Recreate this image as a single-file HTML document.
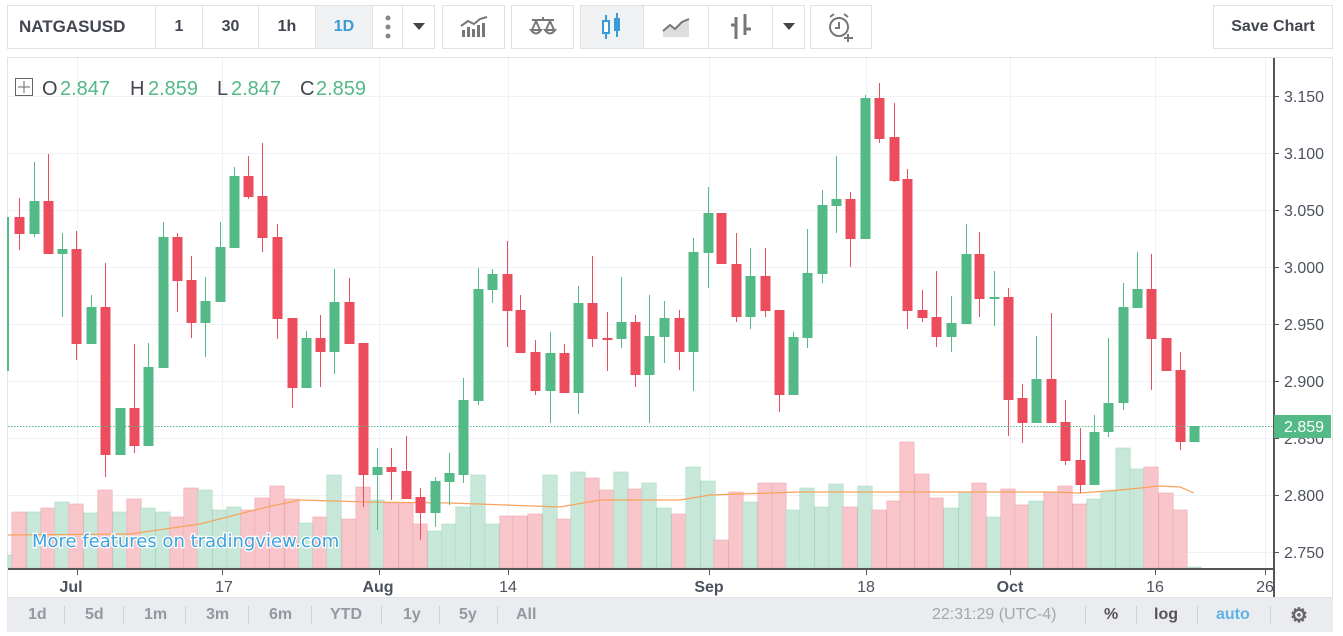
<!DOCTYPE html>
<html><head><meta charset="utf-8"><style>
body{margin:0;width:1343px;height:636px;background:#fff;font-family:"Liberation Sans",sans-serif;overflow:hidden;position:relative}
.b{position:absolute;border:1px solid #dfe1e5;box-sizing:border-box;background:#fff;display:flex;align-items:center;justify-content:center;color:#434651;font-weight:bold;font-size:16px}
.bb{position:absolute;top:598px;height:34px;display:flex;align-items:center;font-size:16px;color:#9598a1;font-weight:bold}
.sep{position:absolute;top:606px;width:1px;height:18px;background:#cfd2d6}
</style></head><body>
<div class="b" style="left:7px;top:5px;width:149px;height:44px;justify-content:flex-start;padding-left:11px;font-size:17px">NATGASUSD</div>
<div class="b" style="left:155px;top:5px;width:48px;height:44px">1</div>
<div class="b" style="left:202px;top:5px;width:57px;height:44px">30</div>
<div class="b" style="left:258px;top:5px;width:58px;height:44px">1h</div>
<div class="b" style="left:315px;top:5px;width:58px;height:44px;background:#f0f1f3;color:#3a9bd8">1D</div>
<div class="b" style="left:372px;top:5px;width:31px;height:44px"><svg width="6" height="26"><circle cx="3" cy="4" r="2.5" fill="#888"/><circle cx="3" cy="13" r="2.5" fill="#888"/><circle cx="3" cy="22" r="2.5" fill="#888"/></svg></div>
<div class="b" style="left:402px;top:5px;width:33px;height:44px"><svg width="12" height="8"><path d="M0 0H12L6 7Z" fill="#444"/></svg></div>
<div class="b" style="left:442px;top:5px;width:63px;height:44px"><svg width="28" height="22"><g fill="#777"><rect x="2" y="14" width="3" height="7"/><rect x="7" y="11" width="3" height="10"/><rect x="12" y="13" width="3" height="8"/><rect x="17" y="9" width="3" height="12"/><rect x="22" y="7" width="3" height="14"/></g><path d="M1 10L8 5L14 8L20 3L27 1" stroke="#777" stroke-width="2" fill="none"/></svg></div>
<div class="b" style="left:511px;top:5px;width:63px;height:44px"><svg width="28" height="22"><g stroke="#777" stroke-width="2" fill="none"><path d="M3 4H25M14 1V5M7 5L3 14M7 5L11 14M21 5L17 14M21 5L25 14M2 14Q7 21 12 14ZM16 14Q21 21 26 14Z"/></g></svg></div>
<div class="b" style="left:580px;top:5px;width:64px;height:44px;background:#f0f1f3"><svg width="22" height="30"><g stroke="#3a9bd8" stroke-width="2"><path d="M5 3V27M16 1V25"/></g><rect x="2" y="9" width="6" height="12" fill="#fff" stroke="#3a9bd8" stroke-width="2"/><rect x="13" y="6" width="6" height="13" fill="#3a9bd8"/></svg></div>
<div class="b" style="left:643px;top:5px;width:66px;height:44px"><svg width="28" height="20"><path d="M1 14L8 8L13 12L20 5L27 2V20H1Z" fill="#ddd"/><path d="M1 14L8 8L13 12L20 5L27 2" stroke="#777" stroke-width="2" fill="none"/></svg></div>
<div class="b" style="left:708px;top:5px;width:65px;height:44px"><svg width="24" height="28"><g stroke="#777" stroke-width="3" fill="none"><path d="M7 4V26M2 12H7M16 1V22M16 16H22"/></g></svg></div>
<div class="b" style="left:772px;top:5px;width:33px;height:44px"><svg width="12" height="8"><path d="M0 0H12L6 7Z" fill="#444"/></svg></div>
<div class="b" style="left:810px;top:5px;width:62px;height:44px"><svg width="30" height="30"><g stroke="#777" stroke-width="2" fill="none"><circle cx="13" cy="15" r="9"/><path d="M13 10V16H9M4 5L8 2M22 5L18 2M22 22V30M18 26H27"/></g></svg></div>
<div class="b" style="left:1213px;top:5px;width:120px;height:44px;font-size:16px;color:#434651">Save Chart</div>

<svg style="position:absolute;left:0;top:0" width="1343" height="636">
<rect x="7.5" y="57.5" width="1325" height="540" fill="#fff" stroke="#e0e3e8"/>
<g id="grid" stroke="#eef1f5" stroke-width="1"></g>
<g id="vol"></g>
<polyline id="ma" fill="none" stroke="#f7a35c" stroke-width="1.2" points="8,535 130,534 200,524 267,507 300,500 367,502 450,503 560,507 600,500 680,500 710,495 800,492 1050,492 1080,493 1120,490 1160,486 1180,487 1194,493"/>
<text x="32" y="547" font-size="18" fill="#3fa2dc" stroke="#fff" stroke-width="2.5" paint-order="stroke" font-family="DejaVu Sans, sans-serif">More features on tradingview.com</text>
<g id="cand"></g>
<line x1="8" y1="426.5" x2="1274" y2="426.5" stroke="#53b987" stroke-dasharray="1.5,1.5"/>
<line x1="8" y1="569" x2="1274" y2="569" stroke="#555" stroke-width="2"/>
<line x1="1274" y1="58" x2="1274" y2="597" stroke="#555" stroke-width="2"/>
<g id="ticks" stroke="#555"></g>
<g font-size="16" fill="#4c525e" font-family="Liberation Sans, sans-serif">
<text x="1284" y="102">3.150</text><text x="1284" y="159">3.100</text><text x="1284" y="216">3.050</text><text x="1284" y="273">3.000</text><text x="1284" y="330">2.950</text><text x="1284" y="387">2.900</text><text x="1284" y="444">2.850</text><text x="1284" y="501">2.800</text><text x="1284" y="558">2.750</text>
</g>
<rect x="1274" y="415" width="57" height="23" fill="#53b987"/>
<text x="1284" y="432" font-size="16" fill="#fff" font-family="Liberation Sans, sans-serif">2.859</text>
<g font-size="16" fill="#4c525e" font-family="Liberation Sans, sans-serif" text-anchor="middle">
<text x="71" y="592" font-weight="bold">Jul</text><text x="224" y="592">17</text><text x="378" y="592" font-weight="bold">Aug</text><text x="508" y="592">14</text><text x="709" y="592" font-weight="bold">Sep</text><text x="866" y="592">18</text><text x="1010" y="592" font-weight="bold">Oct</text><text x="1155" y="592">16</text><text x="1265" y="592">26</text>
</g>
<rect x="15.5" y="78.5" width="17" height="17" fill="none" stroke="#666"/>
<path d="M24 81V93M18 87H30" stroke="#666"/>
<g font-size="20" font-family="Liberation Sans, sans-serif">
<text x="42" y="95" fill="#434651">O</text><text x="60" y="95" fill="#53b987">2.847</text>
<text x="130" y="95" fill="#434651">H</text><text x="148" y="95" fill="#53b987">2.859</text>
<text x="217" y="95" fill="#434651">L</text><text x="231" y="95" fill="#53b987">2.847</text>
<text x="300" y="95" fill="#434651">C</text><text x="316" y="95" fill="#53b987">2.859</text>
</g>
<rect x="7" y="598" width="1326" height="34" fill="#ebecef"/>
</svg>
<div class="bb" style="left:28px">1d</div><div class="bb" style="left:85px">5d</div><div class="bb" style="left:144px">1m</div><div class="bb" style="left:206px">3m</div><div class="bb" style="left:269px">6m</div><div class="bb" style="left:330px">YTD</div><div class="bb" style="left:403px">1y</div><div class="bb" style="left:459px">5y</div><div class="bb" style="left:516px">All</div>
<div class="sep" style="left:64px"></div><div class="sep" style="left:123px"></div><div class="sep" style="left:185px"></div><div class="sep" style="left:248px"></div><div class="sep" style="left:311px"></div><div class="sep" style="left:381px"></div><div class="sep" style="left:439px"></div><div class="sep" style="left:497px"></div>
<div class="bb" style="left:932px;font-weight:normal;color:#a3a6ad;font-size:16px">22:31:29 (UTC-4)</div>
<div class="bb" style="left:1104px;color:#555">%</div><div class="bb" style="left:1154px;color:#555">log</div><div class="bb" style="left:1216px;color:#5fb3e4">auto</div>
<div class="sep" style="left:1085px"></div><div class="sep" style="left:1136px"></div><div class="sep" style="left:1197px"></div><div class="sep" style="left:1270px"></div>
<div class="bb" style="left:1290px;color:#666;font-size:20px">&#9881;</div>
<script>
var NS="http://www.w3.org/2000/svg";
function el(p,t,a){var e=document.createElementNS(NS,t);for(var k in a)e.setAttribute(k,a[k]);p.appendChild(e);return e;}
var g=document.getElementById('grid');
[96,153,210,267,324,381,438,495,552].forEach(function(y){el(g,'line',{x1:8,x2:1273,y1:y+.5,y2:y+.5});});
[77,222,379,508,709,866,1010,1155,1265].forEach(function(x){el(g,'line',{x1:x+.5,x2:x+.5,y1:58,y2:568});});
var tk=document.getElementById('ticks');
[77,222,379,508,709,866,1010,1155,1265].forEach(function(x){el(tk,'line',{x1:x+.5,x2:x+.5,y1:569,y2:575});});
[96,153,210,267,324,381,438,495,552].forEach(function(y){el(tk,'line',{x1:1274,x2:1279,y1:y+.5,y2:y+.5});});
var C=[[19,'r',217,234,198,250],[34,'g',201,234,162,237],[48,'r',201,254,154,254],[62,'g',249,254,233,317],[76,'r',249,344,231,360],[91,'g',307,344,295,344],[105,'r',307,455,263,477],[120,'g',408,455,408,455],[134,'r',408,446,344,453],[148,'g',367,446,343,446],[163,'g',237,368,222,368],[177,'r',237,281,233,312],[191,'r',280,323,256,338],[205,'g',301,323,277,357],[220,'g',247,302,222,302],[234,'g',176,248,167,248],[248,'r',176,197,156,199],[262,'r',196,238,143,252],[277,'r',237,319,224,339],[292,'r',318,388,318,408],[306,'g',338,388,331,388],[320,'r',338,352,315,387],[334,'g',302,352,269,374],[349,'r',302,344,278,344],[363,'r',343,475,343,507],[377,'g',467,475,448,530],[391,'r',467,472,448,500],[406,'r',471,499,436,499],[420,'r',497,513,488,540],[435,'g',481,513,477,527],[449,'g',473,482,453,505],[463,'g',400,475,378,483],[478,'g',289,401,268,405],[492,'g',274,290,269,303],[507,'r',274,311,241,347],[520,'r',310,353,295,353],[535,'r',352,391,340,395],[550,'g',353,391,332,423],[564,'r',353,393,344,393],[578,'g',303,393,286,414],[592,'r',303,339,256,347],[607,'r',338,339,312,371],[621,'g',322,339,277,348],[635,'r',322,375,315,387],[649,'g',336,375,295,423],[664,'g',318,337,301,363],[679,'r',318,352,310,370],[693,'g',252,352,238,391],[708,'g',213,253,187,288],[721,'r',213,264,213,264],[736,'r',264,317,233,322],[750,'g',276,317,248,329],[765,'r',276,311,248,317],[779,'r',310,395,310,412],[793,'g',337,395,332,395],[807,'g',273,338,229,348],[822,'g',205,274,190,283],[836,'g',199,206,156,233],[850,'r',199,239,192,267],[865,'g',98,239,95,239],[879,'r',98,139,83,143],[894,'r',137,181,103,182],[907,'r',179,311,169,329],[922,'r',310,318,290,322],[936,'r',317,337,271,347],[951,'g',323,337,296,352],[966,'g',254,324,224,324],[979,'r',254,299,232,317],[994,'g',297,299,271,326],[1008,'r',297,400,288,436],[1022,'r',398,423,384,443],[1036,'g',379,423,336,423],[1051,'r',379,423,313,423],[1065,'r',422,461,400,465],[1080,'r',460,485,428,493],[1094,'g',432,485,415,485],[1108,'g',403,432,338,437],[1123,'g',307,403,283,410],[1137,'g',289,308,252,308],[1151,'r',289,339,254,390],[1166,'r',338,371,338,371],[1180,'r',370,442,352,450],[1194,'g',426,442,426,442]];
var V=[555,512,512,508,502,504,513,490,512,499,508,512,517,488,490,510,507,510,498,486,499,523,517,475,519,487,500,503,503,524,531,524,507,475,524,516,516,514,475,519,472,478,490,472,489,483,508,514,467,481,540,492,502,483,483,510,488,507,484,507,486,510,501,442,474,498,508,492,483,517,489,505,501,492,486,504,499,491,448,469,467,493,510,567];
var VC=['g'].concat(C.map(function(c){return c[1];}));
var vg=document.getElementById('vol');
var xs=[8].concat(C.map(function(c){return c[0];}));
for(var i=0;i<V.length;i++){var x=xs[i];var x0=Math.max(8,x-7.2);
el(vg,'rect',{x:x0,y:V[i],width:x+7.2-x0,height:568-V[i],fill:VC[i]=='g'?'#c7e8d9':'#f8c5ca',stroke:VC[i]=='g'?'#a9d9c2':'#eeaab1','stroke-width':0.6});}
var cg=document.getElementById('cand');
el(cg,'rect',{x:7,y:217,width:2,height:154,fill:'#53b987'});
C.forEach(function(c){var col=c[1]=='g'?'#53b987':'#eb4d5c';
el(cg,'line',{x1:c[0]+.5,x2:c[0]+.5,y1:c[4],y2:c[5],stroke:col,'stroke-width':1});
el(cg,'rect',{x:c[0]-4.5,y:c[2],width:10,height:Math.max(2,c[3]-c[2]),fill:col});});
</script>
</body></html>
